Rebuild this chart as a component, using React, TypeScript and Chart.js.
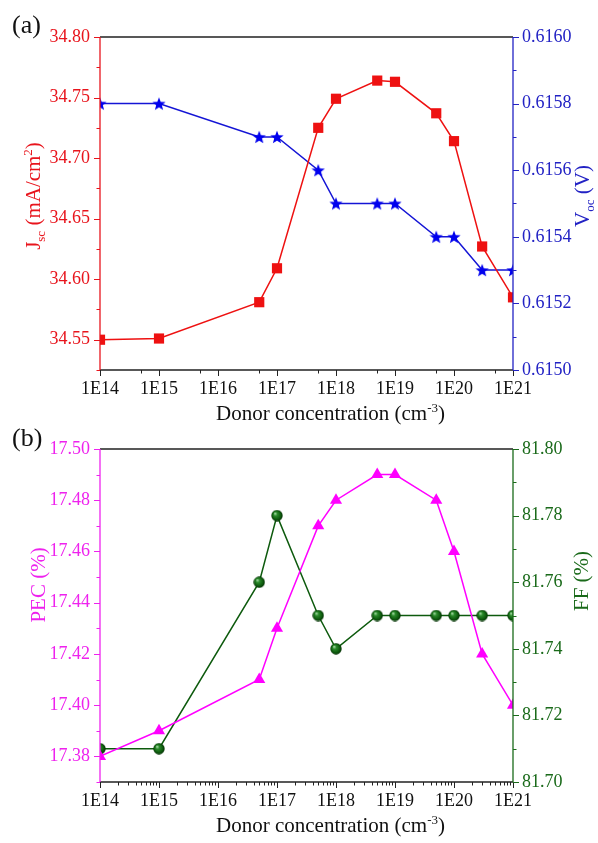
import React, { useEffect, useRef } from "react";
import { Chart, registerables } from "chart.js";

Chart.register(...registerables);

// ---------- data ----------
const donorConc = [1e14, 1e15, 5e16, 1e17, 5e17, 1e18, 5e18, 1e19, 5e19, 1e20, 3e20, 1e21];
const jsc = [34.55, 34.551, 34.581, 34.609, 34.725, 34.749, 34.764, 34.763, 34.737, 34.714, 34.627, 34.585];
const voc = [0.6158, 0.6158, 0.6157, 0.6157, 0.6156, 0.6155, 0.6155, 0.6155, 0.6154, 0.6154, 0.6153, 0.6153];
const pec = [17.38, 17.39, 17.41, 17.43, 17.47, 17.48, 17.49, 17.49, 17.48, 17.46, 17.42, 17.4];
const ff = [81.71, 81.71, 81.76, 81.78, 81.75, 81.74, 81.75, 81.75, 81.75, 81.75, 81.75, 81.75];

// ---------- ticks ----------
const xDecades = [1e14, 1e15, 1e16, 1e17, 1e18, 1e19, 1e20, 1e21];
const xMinorA = [5e14, 5e15, 5e16, 5e17, 5e18, 5e19, 5e20];
const xMinorMultipliers = [2, 3, 4, 5, 6, 7, 8, 9];

const jscTicks = [34.55, 34.6, 34.65, 34.7, 34.75, 34.8];
const jscMinor = [34.525, 34.575, 34.625, 34.675, 34.725, 34.775];
const vocTicks = [0.615, 0.6152, 0.6154, 0.6156, 0.6158, 0.616];
const vocMinor = [0.6151, 0.6153, 0.6155, 0.6157, 0.6159];
const pecTicks = [17.38, 17.4, 17.42, 17.44, 17.46, 17.48, 17.5];
const pecMinor = [17.37, 17.39, 17.41, 17.43, 17.45, 17.47, 17.49];
const ffTicks = [81.7, 81.72, 81.74, 81.76, 81.78, 81.8];
const ffMinor = [81.71, 81.73, 81.75, 81.77, 81.79];

const FONT = '"Liberation Serif", "Times New Roman", serif';

type Part = { t: string; s?: "sub" | "sup" };

function drawRich(
  ctx: CanvasRenderingContext2D,
  parts: Part[],
  x: number,
  y: number,
  size: number,
  color: string,
  rotate: boolean
) {
  ctx.save();
  ctx.translate(x, y);
  if (rotate) ctx.rotate(-Math.PI / 2);
  const small = Math.round(size * 0.62);
  const widths = parts.map((p) => {
    ctx.font = `${p.s ? small : size}px ${FONT}`;
    return ctx.measureText(p.t).width;
  });
  const total = widths.reduce((a, b) => a + b, 0);
  let cx = -total / 2;
  ctx.fillStyle = color;
  ctx.textBaseline = "alphabetic";
  ctx.textAlign = "left";
  parts.forEach((p, i) => {
    ctx.font = `${p.s ? small : size}px ${FONT}`;
    const dy = p.s === "sub" ? size * 0.22 : p.s === "sup" ? -size * 0.4 : 0;
    ctx.fillText(p.t, cx, dy);
    cx += widths[i];
  });
  ctx.restore();
}

function starImage(color: string, size: number) {
  const c = document.createElement("canvas");
  c.width = size;
  c.height = size;
  const g = c.getContext("2d")!;
  const cx = size / 2;
  const cy = size / 2 + size * 0.05;
  const R = size / 2;
  const r = R * 0.42;
  g.beginPath();
  for (let i = 0; i < 10; i++) {
    const ang = -Math.PI / 2 + (i * Math.PI) / 5;
    const rad = i % 2 === 0 ? R : r;
    g.lineTo(cx + rad * Math.cos(ang), cy + rad * Math.sin(ang));
  }
  g.closePath();
  g.fillStyle = color;
  g.fill();
  return c;
}

function ballImage(size: number) {
  const c = document.createElement("canvas");
  c.width = size;
  c.height = size;
  const g = c.getContext("2d")!;
  const cx = size / 2;
  const cy = size / 2;
  const r = size / 2 - 0.3;
  const grad = g.createRadialGradient(cx - r * 0.35, cy - r * 0.4, 0.3, cx, cy, r);
  grad.addColorStop(0, "#a8dca8");
  grad.addColorStop(0.3, "#2a8a2a");
  grad.addColorStop(0.75, "#0d5a0d");
  grad.addColorStop(1, "#043004");
  g.beginPath();
  g.arc(cx, cy, r, 0, Math.PI * 2);
  g.fillStyle = grad;
  g.fill();
  return c;
}

type PanelSpec = {
  canvasH: number;
  top: number;
  bottom: number;
  label: string;
  labelBaseline: number;
  xTitleBaseline: number;
  xMinor: number[];
  left: {
    min: number; max: number; ticks: number[]; minor: number[]; digits: number;
    color: string; title: Part[]; titleX: number; titleY: number;
  };
  right: {
    min: number; max: number; ticks: number[]; minor: number[]; digits: number;
    color: string; title: Part[]; titleX: number; titleY: number;
  };
  datasets: any[];
};

const PLOT_LEFT = 100;
const PLOT_RIGHT = 513;
const W = 598;

function makeFrame(p: PanelSpec) {
  return {
    id: "frame",
    afterDraw(chart: any) {
      const { ctx, chartArea: a, scales } = chart;
      const xs = scales.x;
      const yl = scales.yL;
      const yr = scales.yR;
      ctx.save();
      ctx.lineWidth = 1.3;
      // frame lines
      ctx.strokeStyle = "#222";
      ctx.beginPath();
      ctx.moveTo(a.left, a.top);
      ctx.lineTo(a.right, a.top);
      ctx.moveTo(a.left, a.bottom);
      ctx.lineTo(a.right, a.bottom);
      ctx.stroke();
      // x ticks
      const xTick = (v: number, len: number) => {
        const px = Math.round(xs.getPixelForValue(v)) + 0.5;
        ctx.beginPath();
        ctx.moveTo(px, a.bottom);
        ctx.lineTo(px, a.bottom + len);
        ctx.stroke();
      };
      ctx.lineWidth = 1;
      xDecades.forEach((v) => xTick(v, 6));
      p.xMinor.forEach((v) => xTick(v, 3.5));
      // left axis
      ctx.strokeStyle = p.left.color;
      ctx.lineWidth = 1.3;
      ctx.beginPath();
      ctx.moveTo(a.left, a.top);
      ctx.lineTo(a.left, a.bottom);
      ctx.stroke();
      ctx.lineWidth = 1;
      const ylTick = (v: number, len: number) => {
        const py = Math.round(yl.getPixelForValue(v)) + 0.5;
        ctx.beginPath();
        ctx.moveTo(a.left, py);
        ctx.lineTo(a.left - len, py);
        ctx.stroke();
      };
      p.left.ticks.forEach((v) => ylTick(v, 6));
      p.left.minor.forEach((v) => ylTick(v, 3.5));
      // right axis
      ctx.strokeStyle = p.right.color;
      ctx.lineWidth = 1.3;
      ctx.beginPath();
      ctx.moveTo(a.right, a.top);
      ctx.lineTo(a.right, a.bottom);
      ctx.stroke();
      ctx.lineWidth = 1;
      const yrTick = (v: number, len: number) => {
        const py = Math.round(yr.getPixelForValue(v)) + 0.5;
        ctx.beginPath();
        ctx.moveTo(a.right, py);
        ctx.lineTo(a.right + len, py);
        ctx.stroke();
      };
      p.right.ticks.forEach((v) => yrTick(v, 6));
      p.right.minor.forEach((v) => yrTick(v, 3.5));
      ctx.restore();

      // titles
      drawRich(ctx, p.left.title, p.left.titleX, p.left.titleY, 21, p.left.color, true);
      drawRich(ctx, p.right.title, p.right.titleX, p.right.titleY, 21, p.right.color, true);
      drawRich(
        ctx,
        [{ t: "Donor concentration (cm" }, { t: "-3", s: "sup" }, { t: ")" }],
        (a.left + a.right) / 2 + 24,
        p.xTitleBaseline,
        21,
        "#111",
        false
      );
      ctx.save();
      ctx.font = `26px ${FONT}`;
      ctx.fillStyle = "#111";
      ctx.textBaseline = "alphabetic";
      ctx.textAlign = "left";
      ctx.fillText(p.label, 12, p.labelBaseline);
      ctx.restore();
    },
  };
}

function buildConfig(p: PanelSpec): any {
  const noGrid = {
    display: true,
    drawOnChartArea: false,
    drawTicks: true,
    tickLength: 6,
    color: "rgba(0,0,0,0)",
    tickColor: "rgba(0,0,0,0)",
  };
  return {
    type: "line",
    data: { datasets: p.datasets },
    options: {
      responsive: false,
      animation: false,
      devicePixelRatio: 1,
      layout: { padding: { top: p.top, left: 0, right: 0, bottom: 0 } },
      plugins: { legend: { display: false }, tooltip: { enabled: false } },
      scales: {
        x: {
          type: "logarithmic",
          min: 1e14,
          max: 1e21,
          afterBuildTicks: (s: any) => {
            s.ticks = xDecades.map((v) => ({ value: v }));
          },
          afterFit: (s: any) => {
            s.height = p.canvasH - p.bottom;
          },
          grid: noGrid,
          border: { display: false },
          ticks: {
            autoSkip: false,
            maxRotation: 0,
            minRotation: 0,
            padding: 2,
            color: "#111",
            font: { family: FONT, size: 18 },
            callback: (v: any) => "1E" + Math.round(Math.log10(Number(v))),
          },
        },
        yL: {
          type: "linear",
          position: "left",
          min: p.left.min,
          max: p.left.max,
          afterBuildTicks: (s: any) => {
            s.ticks = p.left.ticks.map((v) => ({ value: v }));
          },
          afterFit: (s: any) => {
            s.width = PLOT_LEFT;
          },
          grid: noGrid,
          border: { display: false },
          ticks: {
            autoSkip: false,
            padding: 4,
            color: p.left.color,
            font: { family: FONT, size: 18 },
            callback: (v: any) => Number(v).toFixed(p.left.digits),
          },
        },
        yR: {
          type: "linear",
          position: "right",
          min: p.right.min,
          max: p.right.max,
          afterBuildTicks: (s: any) => {
            s.ticks = p.right.ticks.map((v) => ({ value: v }));
          },
          afterFit: (s: any) => {
            s.width = W - PLOT_RIGHT;
          },
          grid: noGrid,
          border: { display: false },
          ticks: {
            autoSkip: false,
            padding: 3,
            color: p.right.color,
            font: { family: FONT, size: 18 },
            callback: (v: any) => Number(v).toFixed(p.right.digits),
          },
        },
      },
    },
    plugins: [makeFrame(p)],
  };
}

function toPoints(ys: number[]) {
  return donorConc.map((x, i) => ({ x, y: ys[i] }));
}

export default function App() {
  const refA = useRef<HTMLCanvasElement>(null);
  const refB = useRef<HTMLCanvasElement>(null);

  useEffect(() => {
    const star = starImage("#0000ee", 14);
    const ball = ballImage(12);

    const specA: PanelSpec = {
      canvasH: 430,
      top: 37,
      bottom: 370,
      label: "(a)",
      labelBaseline: 33,
      xTitleBaseline: 420,
      xMinor: xMinorA,
      left: {
        min: 34.525, max: 34.8, ticks: jscTicks, minor: jscMinor, digits: 2,
        color: "#e8141c",
        title: [{ t: "J" }, { t: "sc", s: "sub" }, { t: " (mA/cm" }, { t: "2", s: "sup" }, { t: ")" }],
        titleX: 40, titleY: 196,
      },
      right: {
        min: 0.615, max: 0.616, ticks: vocTicks, minor: vocMinor, digits: 4,
        color: "#2222c4",
        title: [{ t: "V" }, { t: "oc", s: "sub" }, { t: " (V)" }],
        titleX: 589, titleY: 196,
      },
      datasets: [
        {
          data: toPoints(jsc),
          yAxisID: "yL",
          borderColor: "#ee1111",
          backgroundColor: "#ee1111",
          borderWidth: 1.5,
          pointStyle: "rect",
          pointRadius: 7.2,
          pointBorderWidth: 0,
          pointBackgroundColor: "#ee1111",
          tension: 0,
        },
        {
          data: toPoints(voc),
          yAxisID: "yR",
          borderColor: "#1515d5",
          backgroundColor: "#0000ee",
          borderWidth: 1.5,
          pointStyle: star,
          pointRadius: 7,
          tension: 0,
        },
      ],
    };

    const xMinorB: number[] = [];
    for (let e = 14; e < 21; e++) {
      xMinorMultipliers.forEach((m) => xMinorB.push(m * Math.pow(10, e)));
    }

    const specB: PanelSpec = {
      canvasH: 423,
      top: 29,
      bottom: 362,
      label: "(b)",
      labelBaseline: 26,
      xTitleBaseline: 412,
      xMinor: xMinorB,
      left: {
        min: 17.37, max: 17.5, ticks: pecTicks, minor: pecMinor, digits: 2,
        color: "#ee22ee",
        title: [{ t: "PEC (%)" }],
        titleX: 45, titleY: 165,
      },
      right: {
        min: 81.7, max: 81.8, ticks: ffTicks, minor: ffMinor, digits: 2,
        color: "#1a6a1a",
        title: [{ t: "FF (%)" }],
        titleX: 588, titleY: 161,
      },
      datasets: [
        {
          data: toPoints(pec),
          yAxisID: "yL",
          borderColor: "#ff00ff",
          backgroundColor: "#ff00ff",
          borderWidth: 1.5,
          pointStyle: "triangle",
          pointRadius: 7,
          pointBorderWidth: 0,
          pointBackgroundColor: "#ff00ff",
          tension: 0,
        },
        {
          data: toPoints(ff),
          yAxisID: "yR",
          borderColor: "#0d5a0d",
          backgroundColor: "#0d5a0d",
          borderWidth: 1.5,
          pointStyle: ball,
          pointRadius: 6,
          tension: 0,
        },
      ],
    };

    const a = new Chart(refA.current!, buildConfig(specA));
    const b = new Chart(refB.current!, buildConfig(specB));
    return () => {
      a.destroy();
      b.destroy();
    };
  }, []);

  return (
    <div style={{ position: "absolute", left: 0, top: 0, width: 598, height: 843, background: "#fff" }}>
      <canvas
        ref={refA}
        width={598}
        height={430}
        style={{ position: "absolute", left: 0, top: 0, width: 598, height: 430 }}
      />
      <canvas
        ref={refB}
        width={598}
        height={423}
        style={{ position: "absolute", left: 0, top: 420, width: 598, height: 423 }}
      />
    </div>
  );
}
